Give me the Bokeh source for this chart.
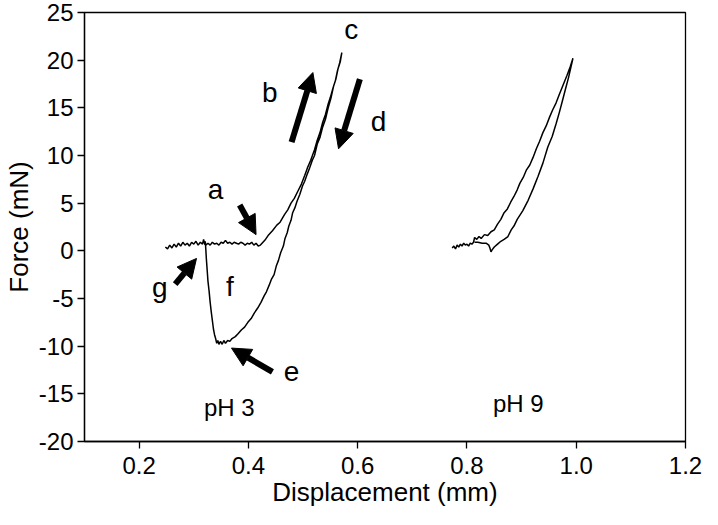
from bokeh.plotting import figure
from bokeh.models import Arrow, NormalHead, FixedTicker, Range1d
from bokeh.core.properties import value
from bokeh.embed import file_html
from bokeh.resources import INLINE

# ---- data ----
# pH 3: approach (baseline, rise to c) then retract (down to e, snap back at g)
ph3_x = [0.248, 0.252, 0.256, 0.260, 0.264, 0.268, 0.272, 0.276, 0.280, 0.284,
         0.288, 0.292, 0.296, 0.300, 0.304, 0.308, 0.312, 0.316, 0.318, 0.320,
         0.322, 0.326, 0.330, 0.334, 0.338, 0.342, 0.346, 0.350, 0.354, 0.358,
         0.362, 0.366, 0.370, 0.374, 0.378, 0.382, 0.386, 0.390, 0.394, 0.398,
         0.402, 0.406, 0.410, 0.414, 0.418, 0.422,
         0.430, 0.436, 0.444, 0.452, 0.458, 0.466, 0.472, 0.478, 0.484, 0.490,
         0.497, 0.503, 0.508, 0.514, 0.521, 0.526, 0.531, 0.536, 0.541, 0.546,
         0.550, 0.555, 0.559, 0.563, 0.567, 0.571,
         0.568, 0.564, 0.560, 0.556, 0.551, 0.546, 0.541, 0.536, 0.531, 0.526,
         0.521, 0.517, 0.512, 0.508, 0.503, 0.499, 0.494, 0.489, 0.485, 0.481,
         0.478, 0.474, 0.471, 0.467, 0.464, 0.459, 0.455, 0.451, 0.447, 0.442,
         0.438, 0.433, 0.429, 0.423, 0.417, 0.411, 0.405, 0.399, 0.393, 0.387,
         0.381, 0.376, 0.370, 0.366, 0.362, 0.358, 0.355, 0.352, 0.349, 0.346,
         0.344, 0.342, 0.340, 0.338, 0.336, 0.334, 0.332, 0.330, 0.328, 0.326,
         0.325, 0.324, 0.323, 0.322, 0.321]
ph3_y = [0.4, 0.2, 0.6, 0.3, 0.7, 0.4, 0.8, 0.5, 0.9, 0.6,
         0.8, 0.5, 0.9, 0.7, 1.0, 0.6, 0.9, 0.7, 1.2, 0.7,
         0.6, 0.8, 0.6, 0.9, 0.7, 0.8, 0.6, 0.9, 0.8, 1.1,
         0.8, 0.9, 0.7, 0.9, 0.8, 0.7, 0.9, 0.8, 0.6, 0.8,
         0.7, 0.9, 0.6, 0.8, 0.5, 0.6,
         1.1, 1.6, 2.1, 2.7, 3.0, 3.8, 4.3, 5.0, 5.5, 6.2,
         7.0, 7.9, 8.7, 9.5, 10.6, 11.6, 12.4, 13.5, 14.3, 15.4,
         16.1, 17.1, 17.8, 18.9, 19.7, 20.8,
         19.8, 19.1, 18.0, 17.3, 16.0, 15.0, 13.8, 13.0, 11.9, 11.2,
         10.0, 9.5, 8.7, 8.1, 7.3, 6.8, 5.9, 5.2, 4.5, 4.0,
         3.2, 2.6, 1.9, 1.3, 0.5, -0.2, -1.0, -1.6, -2.5, -3.0,
         -3.6, -4.3, -4.7, -5.4, -6.0, -6.5, -7.1, -7.5, -8.0, -8.3,
         -8.7, -9.0, -9.2, -9.5, -9.4, -9.7, -9.4, -9.8, -9.5, -9.8,
         -9.4, -9.7, -9.2, -8.8, -8.2, -7.3, -6.4, -5.4, -4.2, -3.2,
         -2.4, -1.6, -0.8, 0.2, 1.0]

# pH 9: baseline, loading (upper-left branch), unloading (lower-right branch)
ph9_x = [0.773, 0.776, 0.779, 0.782, 0.785, 0.788, 0.791, 0.794, 0.797, 0.800,
         0.803, 0.806, 0.809, 0.812, 0.814, 0.818, 0.822, 0.826, 0.832, 0.838,
         0.844, 0.850, 0.856, 0.862, 0.868, 0.874, 0.880, 0.886, 0.892, 0.897,
         0.903, 0.909, 0.915, 0.921, 0.927, 0.933, 0.939, 0.945, 0.951, 0.957,
         0.963, 0.969, 0.976, 0.983, 0.989, 0.994,
         0.990, 0.986, 0.980, 0.975, 0.969, 0.963, 0.956, 0.948, 0.939, 0.930,
         0.921, 0.912, 0.902, 0.892, 0.886, 0.881, 0.875, 0.868, 0.862, 0.856,
         0.850, 0.846, 0.844, 0.842, 0.840, 0.835, 0.828, 0.820, 0.814]
ph9_y = [0.3, 0.5, 0.2, 0.6, 0.4, 0.7, 0.5, 0.8, 0.6, 0.7,
         0.5, 0.8, 0.7, 0.9, 1.4, 1.2, 1.5, 1.3, 1.7, 1.6,
         2.0, 2.2, 2.8, 3.3, 4.0, 4.4, 5.1, 5.7, 6.4, 7.1,
         7.7, 8.5, 9.0, 9.8, 10.7, 11.5, 12.4, 13.1, 14.0, 14.8,
         15.5, 16.4, 17.4, 18.4, 19.3, 20.2,
         19.2, 18.2, 16.9, 15.8, 14.5, 13.3, 12.0, 10.9, 9.2, 7.8,
         6.5, 5.3, 4.2, 3.3, 2.6, 2.2, 1.5, 1.2, 1.0, 0.7,
         0.4, 0.1, -0.1, 0.3, 0.6, 0.8, 0.8, 0.9, 0.9]

x_ticks = [0.2, 0.4, 0.6, 0.8, 1.0, 1.2]
x_tick_labels = ["0.2", "0.4", "0.6", "0.8", "1.0", "1.2"]
y_ticks = [-20, -15, -10, -5, 0, 5, 10, 15, 20, 25]
y_tick_labels = ["-20", "-15", "-10", "-5", "0", "5", "10", "15", "20", "25"]

letters = ["a", "b", "c", "d", "e", "f", "g"]
letter_x = [0.340, 0.439, 0.588, 0.638, 0.479, 0.366, 0.238]
letter_y = [6.4, 16.6, 23.2, 13.6, -12.7, -3.7, -3.8]

ph_labels = ["pH 3", "pH 9"]
ph_label_x = [0.365, 0.894]
ph_label_y = [-16.4, -16.0]

arrow_x_start = [0.384, 0.479, 0.604, 0.444, 0.266]
arrow_y_start = [4.8, 11.4, 18.0, -12.7, -3.5]
arrow_x_end = [0.414, 0.518, 0.565, 0.369, 0.305]
arrow_y_end = [1.7, 18.7, 10.7, -10.2, -0.8]

FONT = "Liberation Sans"

p = figure(width=702, height=509, output_backend="svg", toolbar_location=None,
           x_range=Range1d(0.1, 1.2), y_range=Range1d(-20, 25),
           min_border_left=10, min_border_right=17, min_border_top=12,
           min_border_bottom=10)
p.background_fill_color = "white"
p.border_fill_color = "white"
p.outline_line_color = "black"
p.outline_line_width = 1.3
p.grid.visible = False

p.xaxis.ticker = FixedTicker(ticks=x_ticks)
p.xaxis.major_label_overrides = {t: l for t, l in zip(x_ticks, x_tick_labels)}
p.yaxis.ticker = FixedTicker(ticks=y_ticks)
p.yaxis.major_label_overrides = {t: l for t, l in zip(y_ticks, y_tick_labels)}
for ax in (p.xaxis, p.yaxis):
    ax.minor_tick_line_color = None
    ax.major_tick_in = 0
    ax.major_tick_out = 7
    ax.major_tick_line_color = "black"
    ax.major_tick_line_width = 1.3
    ax.axis_line_color = "black"
    ax.axis_line_width = 1.3
    ax.major_label_text_font = FONT
    ax.major_label_text_font_size = "24px"
    ax.major_label_text_color = "black"
    ax.axis_label_text_font = FONT
    ax.axis_label_text_font_size = "26px"
    ax.axis_label_text_font_style = "normal"
    ax.axis_label_text_color = "black"
p.xaxis.axis_label = "Displacement (mm)"
p.yaxis.axis_label = "Force (mN)"
p.xaxis.major_label_standoff = 8
p.xaxis.axis_label_standoff = 0
p.yaxis.major_label_standoff = 4
p.yaxis.axis_label_standoff = 2

p.line(ph3_x, ph3_y, line_color="black", line_width=1.5)
p.line(ph9_x, ph9_y, line_color="black", line_width=1.5)

p.text(x=letter_x, y=letter_y, text=letters, text_font=value(FONT),
       text_font_size="28px", text_align="center", text_baseline="middle",
       text_color="black")
p.text(x=ph_label_x, y=ph_label_y, text=ph_labels, text_font=value(FONT),
       text_font_size="24px", text_align="center", text_baseline="middle",
       text_color="black")

for xs, ys, xe, ye in zip(arrow_x_start, arrow_y_start, arrow_x_end, arrow_y_end):
    p.add_layout(Arrow(x_start=xs, y_start=ys, x_end=xe, y_end=ye,
                       line_color="black", line_width=6,
                       end=NormalHead(size=19, fill_color="black",
                                      line_color="black", line_width=1)))

open("out.html", "w").write(file_html(p, INLINE))
